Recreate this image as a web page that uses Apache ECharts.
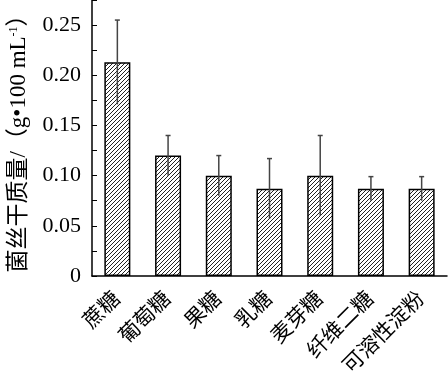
<!DOCTYPE html>
<html>
<head>
<meta charset="utf-8">
<script src="https://cdn.jsdelivr.net/npm/echarts@6/dist/echarts.min.js"></script>
<style>html,body{margin:0;padding:0;background:#fff}#c{width:448px;height:384px}</style>
</head>
<body>
<div id="c"></div>
<script>
const categories = ['蔗糖','葡萄糖','果糖','乳糖','麦芽糖','纤维二糖','可溶性淀粉'];
const means = [0.213, 0.120, 0.100, 0.087, 0.100, 0.087, 0.087];
const errors = [0.042, 0.020, 0.020, 0.030, 0.040, 0.012, 0.012];
const yTicks = [0, 0.05, 0.10, 0.15, 0.20, 0.25];

// hatch pattern
const pc = document.createElement('canvas');
pc.width = 4; pc.height = 4;
const g = pc.getContext('2d');
g.fillStyle = '#fff'; g.fillRect(0,0,4,4);
g.strokeStyle = '#222'; g.lineWidth = 1;
g.beginPath();
g.moveTo(0,4); g.lineTo(4,0);
g.moveTo(-1,1); g.lineTo(1,-1);
g.moveTo(3,5); g.lineTo(5,3);
g.stroke();

const errData = means.map((m,i)=>[i, m - errors[i], m + errors[i]]);

const chart = echarts.init(document.getElementById('c'), null, {renderer:'canvas'});
const serif = '"Liberation Serif","Noto Sans CJK SC",serif';
chart.setOption({
  animation:false,
  grid:{left:92,right:1,top:0,bottom:108,containLabel:false,outerBoundsMode:'none'},
  xAxis:{
    type:'category', data:categories,
    axisLine:{lineStyle:{color:'#000',width:1.5}},
    axisTick:{show:false},
    axisLabel:{rotate:45,interval:0,fontSize:21,color:'#000',fontFamily:serif,margin:20}
  },
  yAxis:{
    type:'value', min:0, max:0.275, interval:0.025,
    name:'{a|菌丝干质量/（g•100 mL}{s|-1}{a|）}',
    nameLocation:'middle', nameGap:62, nameRotate:90,
    nameTextStyle:{rich:{a:{fontSize:23,color:'#000',fontFamily:serif},s:{fontSize:12,color:'#000',fontFamily:serif,padding:[0,0,10,0]}}},
    axisLine:{show:true,lineStyle:{color:'#000',width:1.5}},
    axisTick:{show:true,inside:true,length:5,lineStyle:{color:'#000',width:1}},
    splitLine:{show:false},
    axisLabel:{
      fontSize:22,color:'#000',fontFamily:serif,margin:11,
      formatter:function(v){
        for (const t of yTicks){ if (Math.abs(v-t)<1e-9) return t===0?'0':t.toFixed(2); }
        return '';
      }
    }
  },
  series:[
    {type:'bar', data:means, barWidth:26,
     itemStyle:{color:{image:pc,repeat:'repeat'},borderColor:'#000',borderWidth:1.5}},
    {type:'custom', data:errData, z:10,
     renderItem:function(params, api){
       const x = api.value(0);
       const lo = api.coord([x, api.value(1)]);
       const hi = api.coord([x, api.value(2)]);
       const st = {stroke:'#444',lineWidth:1.5};
       return {type:'group',children:[
         {type:'line',shape:{x1:hi[0],y1:hi[1],x2:lo[0],y2:lo[1]},style:st},
         {type:'line',shape:{x1:hi[0]-2.5,y1:hi[1],x2:hi[0]+2.5,y2:hi[1]},style:st}
       ]};
     }}
  ]
});
</script>
</body>
</html>
